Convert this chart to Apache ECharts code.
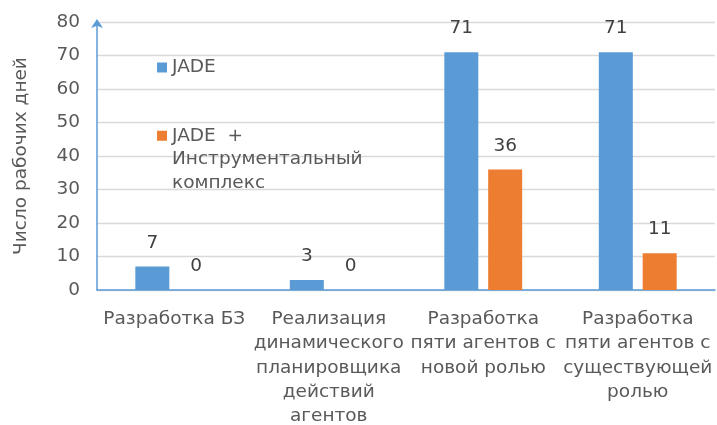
<!DOCTYPE html>
<html><head><meta charset="utf-8">
<script src="https://cdn.jsdelivr.net/npm/echarts@6/dist/echarts.min.js"></script>
<style>html,body{margin:0;padding:0;background:#fff}#c{width:717px;height:425px}</style>
</head><body><div id="c"></div>
<script>
const categories = ['Разработка БЗ', 'Реализация\nдинамического\nпланировщика\nдействий\nагентов', 'Разработка\nпяти агентов с\nновой ролью', 'Разработка\nпяти агентов с\nсуществующей\nролью'];
const seriesNames = ['JADE', 'JADE  + Инструментальный комплекс'];
const jadeValues = [7, 3, 71, 71];
const toolValues = [0, 0, 36, 11];
const yTicks = {min: 0, max: 80, interval: 10};
const yTitle = 'Число рабочих дней';

const FONT = 'DejaVu Sans, Liberation Sans, Arial, sans-serif';
const FS = 18.5;
const chart = echarts.init(document.getElementById('c'), null, {renderer: 'canvas'});
const labelStyle = {show: true, position: 'top', distance: 14, color: '#404040', fontSize: FS, fontFamily: FONT};
chart.setOption({
  animation: false,
  grid: {left: 97, right: 2, top: 22, bottom: 135, containLabel: false, outerBoundsMode: 'none'},
  legend: [
    {data: [seriesNames[0]], orient: 'vertical', left: 157, top: 55.5, padding: 0,
     itemWidth: 10, itemHeight: 10, icon: 'rect', itemGap: 0,
     textStyle: {color: '#595959', fontSize: FS, fontFamily: FONT, lineHeight: 24}},
    {data: [seriesNames[1]], orient: 'vertical', left: 157, top: 77, padding: 0,
     itemWidth: 10, itemHeight: 10, icon: 'rect', itemGap: 0,
     formatter: function () { return '\n\nJADE  +\nИнструментальный\nкомплекс'; },
     textStyle: {color: '#595959', fontSize: FS, fontFamily: FONT, lineHeight: 23.5}}
  ],
  xAxis: {
    type: 'category', data: categories,
    axisLine: {show: true, lineStyle: {color: '#5b9bd5', width: 1.5}},
    axisTick: {show: false},
    axisLabel: {interval: 0, color: '#595959', fontSize: FS, fontFamily: FONT, lineHeight: 24.3, margin: 17, align: 'center'}
  },
  yAxis: {
    type: 'value', min: yTicks.min, max: yTicks.max, interval: yTicks.interval,
    name: yTitle, nameLocation: 'middle', nameGap: 66, nameRotate: 90,
    nameTextStyle: {color: '#595959', fontSize: FS, fontFamily: FONT},
    axisLine: {show: true, symbol: ['none', 'arrow'], symbolSize: [9, 9], symbolOffset: [0, 3], lineStyle: {color: '#5b9bd5', width: 1.5}},
    axisTick: {show: false},
    axisLabel: {color: '#595959', fontSize: FS, fontFamily: FONT, margin: 17},
    splitLine: {show: true, lineStyle: {color: '#d9d9d9', width: 1.3}}
  },
  series: [
    {name: seriesNames[0], type: 'bar', data: jadeValues, barWidth: 34, barGap: '29%',
     itemStyle: {color: '#5b9bd5'}, label: labelStyle},
    {name: seriesNames[1], type: 'bar', data: toolValues, barWidth: 34,
     itemStyle: {color: '#ed7d31'}, label: labelStyle}
  ]
});
</script></body></html>
